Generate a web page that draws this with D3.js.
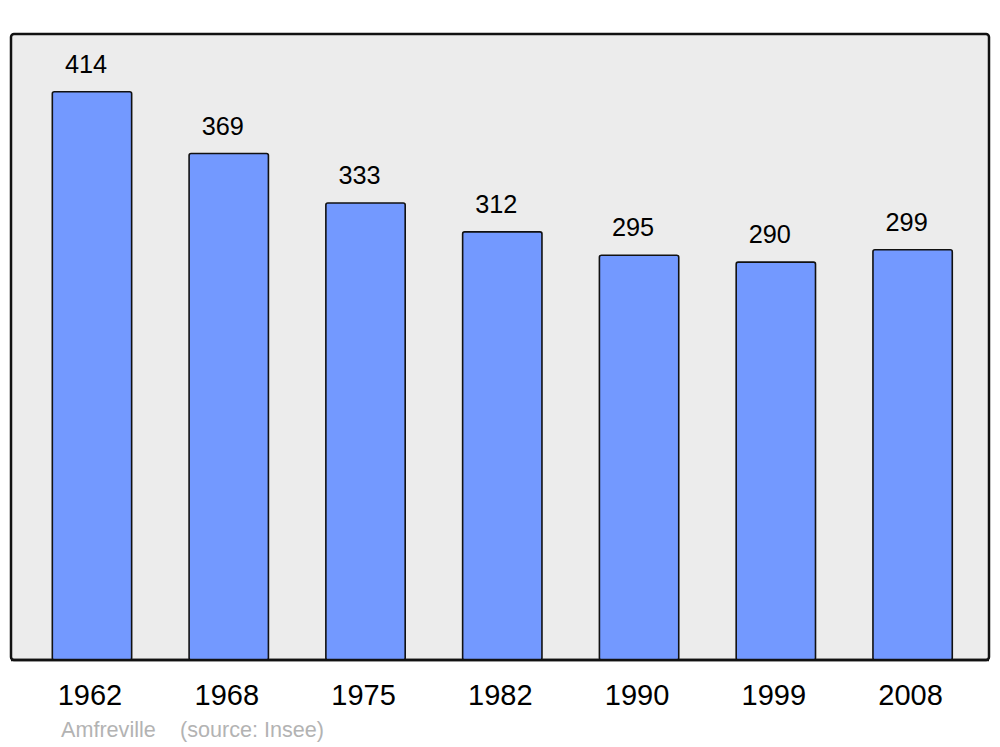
<!DOCTYPE html>
<html><head><meta charset="utf-8">
<script src="https://cdn.jsdelivr.net/npm/d3@7"></script>
<style>body{margin:0;background:#fff}svg{display:block}text{font-family:"Liberation Sans",Arial,sans-serif}</style>
</head><body>
<svg id="c" width="1000" height="747"></svg>
<script>
const years = ["1962","1968","1975","1982","1990","1999","2008"];
const population = [414,369,333,312,295,290,299];
const place = "Amfreville";
const source = "(source: Insee)";

const svg = d3.select("#c");
const frame = {x0:11, y0:34, x1:989, y1:660};
svg.append("rect").attr("x",frame.x0).attr("y",frame.y0)
  .attr("width",frame.x1-frame.x0).attr("height",frame.y1-frame.y0)
  .attr("rx",3).attr("fill","#ececec").attr("stroke","#111").attr("stroke-width",2.5);

const x = d3.scaleBand().domain(years).range([23.6,981]).paddingInner(0.42).paddingOuter(0.21);
const y = d3.scaleLinear().domain([0, d3.max(population)*1.1]).range([frame.y1, frame.y0]);

const data = years.map((yr,i)=>({yr, v:population[i]}));
svg.selectAll("rect.bar").data(data).join("rect").attr("class","bar")
  .attr("x",d=>x(d.yr)).attr("y",d=>y(d.v)+0.8)
  .attr("width",x.bandwidth()).attr("height",d=>frame.y1-y(d.v)-0.8)
  .attr("rx",2).attr("fill","#7399ff").attr("stroke","#111").attr("stroke-width",1.6);

svg.selectAll("text.val").data(data).join("text").attr("class","val")
  .attr("x",d=>x(d.yr)+x.bandwidth()/2-6).attr("y",d=>y(d.v)-18)
  .attr("text-anchor","middle").attr("font-size",25.3).attr("fill","#000")
  .text(d=>d.v);

svg.append("line").attr("x1",frame.x0).attr("x2",frame.x1).attr("y1",frame.y1).attr("y2",frame.y1)
  .attr("stroke","#111").attr("stroke-width",2.5);

const axis = d3.axisBottom(x).tickSize(0).tickPadding(0);
const g = svg.append("g").attr("transform",`translate(0,${frame.y1})`).call(axis);
g.select(".domain").remove();
g.selectAll("text").attr("font-size",29).attr("fill","#000")
  .attr("font-family","Liberation Sans, Arial, sans-serif")
  .attr("dy",null).attr("y",45).attr("dx",-2);

svg.append("text").attr("x",61).attr("y",737).attr("font-size",21.6).attr("fill","#b3b3b3").text(place);
svg.append("text").attr("x",180).attr("y",737).attr("font-size",21.6).attr("fill","#b3b3b3").text(source);
</script>
</body></html>
